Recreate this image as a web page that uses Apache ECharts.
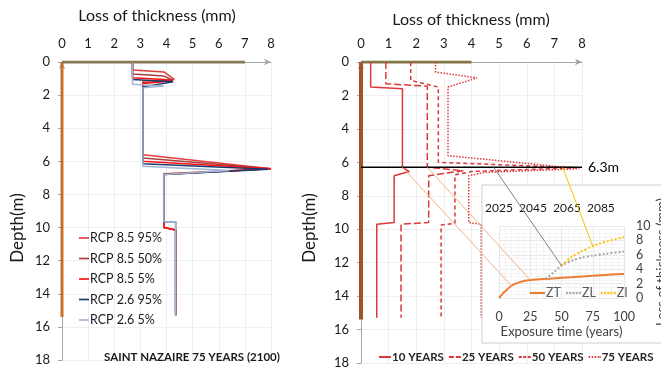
<!DOCTYPE html>
<html>
<head>
<meta charset="utf-8">
<script src="https://cdn.jsdelivr.net/npm/echarts@6/dist/echarts.min.js"></script>
<style>
  html, body { margin: 0; padding: 0; background: #ffffff; }
  #chart { width: 661px; height: 368px; }
</style>
</head>
<body>
<div id="chart"></div>
<script>
// ---- Saint Nazaire, 75 years (2100): loss of thickness profiles, [loss (mm), depth (m)] ----
const rcp85_95 = [[2.7,0],[2.7,0.48],[3.9,0.6],[4.3,1.05],[3.1,1.15],[3.1,5.6],[8.0,6.45],[3.9,6.75],[3.9,10.0],[4.35,10.15],[4.35,15.3]];
const rcp85_50 = [[2.7,0],[2.7,0.72],[3.9,0.85],[4.25,1.1],[3.1,1.25],[3.1,5.8],[8.0,6.45],[3.9,6.78],[3.9,10.0],[4.35,10.15],[4.35,15.3]];
const rcp85_5  = [[2.7,0],[2.7,0.95],[3.9,1.05],[4.2,1.15],[3.1,1.3],[3.1,6.0],[8.0,6.45],[3.9,6.8],[3.9,10.0],[4.35,10.15],[4.35,15.3]];
const rcp26_95 = [[2.7,0],[2.7,1.05],[4.25,1.2],[3.1,1.5],[3.1,6.15],[7.9,6.48],[3.9,6.8],[3.9,9.65],[4.35,9.65],[4.35,15.3]];
const rcp26_5  = [[2.7,0],[2.7,1.35],[3.9,1.45],[3.1,1.55],[3.1,6.3],[6.4,6.55],[3.9,6.8],[3.9,9.65],[4.35,9.65],[4.35,15.3]];

// ---- Exposure durations: loss of thickness profiles, [loss (mm), depth (m)] ----
const years10 = [[0.35,0],[0.35,1.5],[1.5,1.6],[1.5,6.3],[1.75,6.55],[1.2,6.8],[1.2,9.6],[0.57,9.7],[0.57,15.3]];
const years25 = [[0.9,0],[0.9,1.3],[2.4,1.45],[2.4,6.3],[3.7,6.5],[2.45,6.8],[2.45,9.6],[1.45,9.7],[1.45,15.3]];
const years50 = [[1.8,0],[1.8,1.1],[2.8,1.5],[2.8,6.0],[7.8,6.32],[4.0,6.55],[3.4,6.75],[3.4,9.65],[2.9,9.75],[2.9,15.3]];
const years75 = [[2.7,0],[2.7,0.6],[4.2,0.95],[3.15,1.5],[3.15,5.6],[7.9,6.38],[4.5,6.6],[3.9,6.8],[3.9,9.6],[4.35,9.7],[4.35,15.3]];

// Pile outline: shaft down to the toe, and the head at zero depth
const pileShaft = [[0,0],[0,15.4]];
const pileHeadLeft = [[0,0],[7,0]];
const pileHeadRight = [[0,0],[4,0]];

// Depth of maximum loss
const peakDepth = 6.3;

// ---- Loss of thickness vs exposure time, [years, mm] ----
const zoneZT = [[0,0],[3,0.6],[6,1.1],[10,1.7],[15,2.1],[20,2.35],[25,2.5],[30,2.58],[40,2.68],[50,2.8],[60,2.92],[75,3.08],[90,3.25],[100,3.35]];
const zoneZL = [[37,2.65],[42,3.3],[46,3.9],[50,4.5],[55,4.95],[62,5.4],[70,5.75],[80,6.0],[90,6.25],[100,6.45]];
const zoneZI = [[50,4.5],[55,5.3],[62,6.1],[70,6.8],[75,7.2],[85,7.8],[100,8.45]];
const calendarLabels = ['2025','2045','2065','2085'];

// Profile readings at the depth of maximum loss, tied to the curve points they feed
const linkLoss  = [1.5, 2.4, 4.8, 7.3];
const linkYears = [10, 25, 50, 75];
const linkCurve = ['ZT', 'ZT', 'ZL', 'ZI'];
const linkColor = ['#f4b183', '#f4b183', '#808080', '#ffc000'];

const FONT = 'Lato, "Open Sans", sans-serif';
const chart = echarts.init(document.getElementById('chart'), null, { renderer: 'canvas' });

// Legend glyphs: thin strokes, solid / long dash / short dash / dotted
const ICON_SOLID = 'path://M0,0h12v2h-12z';
const ICON_LONG = 'path://M0,0h5v2h-5zM7,0h5v2h-5z';
const ICON_SHORT = 'path://M0,0h3v2h-3zM4.5,0h3v2h-3zM9,0h3v2h-3z';
const ICON_DOT = 'path://M0,0h1.5v2h-1.5zM3,0h1.5v2h-1.5zM6,0h1.5v2h-1.5zM9,0h1.5v2h-1.5zM11,0h1v2h-1z';
const ICON_SOLID15 = 'path://M0,0h15v2h-15z';
const ICON_DOT15 = 'path://M0,0h2v2h-2zM3.25,0h2v2h-2zM6.5,0h2v2h-2zM9.75,0h2v2h-2zM13,0h2v2h-2z';

function depthAxisX(gridIndex) {
  return {
    gridIndex, type: 'value', position: 'top', min: 0, max: 8, interval: 1,
    axisLine: { show: true, onZero: false, lineStyle: { color: '#a6a6a6', width: 1 }, symbol: ['none', 'arrow'], symbolSize: [5, 7] },
    axisTick: { show: false },
    axisLabel: { color: '#1a1a1a', fontSize: 13, fontFamily: FONT, margin: 12 },
    splitLine: { show: true, lineStyle: { color: '#efefef', width: 1 } }
  };
}
function depthAxisY(gridIndex) {
  return {
    gridIndex, type: 'value', inverse: true, min: 0, max: 18, interval: 2,
    axisLine: { show: true, onZero: false, lineStyle: { color: '#a6a6a6', width: 1 }, symbol: ['none', 'arrow'], symbolSize: [5, 7] },
    axisTick: { show: true, length: 4, inside: false, lineStyle: { color: '#a6a6a6' } },
    axisLabel: { color: '#1a1a1a', fontSize: 13, fontFamily: FONT, margin: 12 },
    splitLine: { show: true, lineStyle: { color: '#efefef', width: 1 } }
  };
}
function profile(name, data, color, gi, type, width) {
  return {
    name, type: 'line', data, xAxisIndex: gi, yAxisIndex: gi,
    symbol: 'none', showSymbol: false, animation: false, z: 2,
    lineStyle: { color, width: width || 1.5, type: type || 'solid' },
    itemStyle: { color }
  };
}

const REDS = '#dc3838';
const series = [
  // left panel
  profile('pileShaftL', pileShaft, '#c8702a', 0, 'solid', 3),
  profile('pileHeadL', pileHeadLeft, '#857852', 0, 'solid', 3),
  profile('RCP 8.5 95%', rcp85_95, '#e23c3c', 0),
  profile('RCP 8.5 50%', rcp85_50, '#a84040', 0),
  profile('RCP 8.5 5%', rcp85_5, '#ff1010', 0),
  profile('RCP 2.6 95%', rcp26_95, '#1f3a6e', 0),
  profile('RCP 2.6 5%', rcp26_5, '#9fb6d4', 0),
  // right panel
  profile('pileShaftR', pileShaft, '#a0522d', 1, 'solid', 4),
  profile('pileHeadR', pileHeadRight, '#85764a', 1, 'solid', 3),
  profile('10 YEARS', years10, REDS, 1, 'solid'),
  profile('25 YEARS', years25, REDS, 1, [7, 3]),
  profile('50 YEARS', years50, REDS, 1, [4, 3]),
  profile('75 YEARS', years75, REDS, 1, [1.5, 1.5]),
  {
    name: 'peak', type: 'line', xAxisIndex: 1, yAxisIndex: 1,
    data: [[0, peakDepth], [8, peakDepth]], symbol: 'none', animation: false, z: 3,
    lineStyle: { color: '#000000', width: 1.5 },
    endLabel: {
      show: true, distance: 6, color: '#000000', fontSize: 14, fontFamily: FONT,
      formatter: (p) => p.value[1] + 'm'
    }
  },
  // inset
  Object.assign(profile('ZT', zoneZT, '#ed7d31', 2, 'solid', 2), { smooth: 0.4, z: 6 }),
  Object.assign(profile('ZL', zoneZL, '#a5a5a5', 2, [2, 2], 2), { smooth: 0.4, z: 6 }),
  Object.assign(profile('ZI', zoneZI, '#ffc000', 2, [2, 2], 2), { smooth: 0.4, z: 6 })
];

const option = {
  backgroundColor: '#ffffff',
  animation: false,
  grid: [
    { left: 62, top: 62, width: 209, height: 298, outerBoundsMode: 'none', containLabel: false },
    { left: 361, top: 62, width: 221, height: 301, outerBoundsMode: 'none', containLabel: false },
    { left: 499, top: 226, width: 125, height: 72, z: 5, outerBoundsMode: 'none', containLabel: false }
  ],
  xAxis: [
    depthAxisX(0),
    depthAxisX(1),
    {
      gridIndex: 2, type: 'value', position: 'bottom', min: 0, max: 100, interval: 25, z: 5,
      axisLine: { show: false }, axisTick: { show: false },
      axisLabel: { color: '#404040', fontSize: 12.5, fontFamily: FONT, margin: 12, showMinLabel: true, showMaxLabel: true, hideOverlap: false },
      splitLine: { show: true, lineStyle: { color: '#e8e8e8' } },
      minorTick: { show: false, splitNumber: 5 },
      minorSplitLine: { show: true, lineStyle: { color: '#f4f4f4' } },
      name: 'Exposure time (years)', nameLocation: 'middle', nameGap: 27,
      nameTextStyle: { color: '#404040', fontSize: 13, fontFamily: FONT }
    },
    {
      // calendar years, spaced on their own scale above the plot
      gridIndex: 2, type: 'value', position: 'top', min: 0, max: 92, interval: 25, z: 5,
      axisLine: { show: false }, axisTick: { show: false }, splitLine: { show: false },
      axisLabel: {
        color: '#1a1a1a', fontSize: 12, fontFamily: FONT, margin: 12,
        showMinLabel: true, showMaxLabel: false, hideOverlap: false,
        formatter: (v) => calendarLabels[v / 25] || ''
      }
    }
  ],
  yAxis: [
    depthAxisY(0),
    depthAxisY(1),
    {
      gridIndex: 2, type: 'value', position: 'right', min: 0, max: 10, interval: 2, z: 5,
      axisLine: { show: false }, axisTick: { show: false },
      axisLabel: { color: '#404040', fontSize: 12.5, fontFamily: FONT, margin: 12, showMinLabel: true, showMaxLabel: true, hideOverlap: false },
      splitLine: { show: true, lineStyle: { color: '#e8e8e8' } },
      minorTick: { show: false, splitNumber: 4 },
      minorSplitLine: { show: true, lineStyle: { color: '#f4f4f4' } },
      name: 'Loss of thickness (mm)', nameLocation: 'middle', nameGap: 31, nameRotate: 90,
      nameTextStyle: { color: '#404040', fontSize: 13, fontFamily: FONT }
    }
  ],
  legend: [
    {
      data: ['RCP 8.5 95%', 'RCP 8.5 50%', 'RCP 8.5 5%', 'RCP 2.6 95%', 'RCP 2.6 5%'].map(n => ({ name: n, icon: ICON_SOLID })),
      orient: 'vertical', left: 79, top: 231, padding: 0, itemGap: 6.5,
      itemWidth: 10, itemHeight: 2, selectedMode: false,
      textStyle: { color: '#1a1a1a', fontSize: 12.5, fontFamily: FONT, lineHeight: 14, padding: [0, 0, 0, -4] }
    },
    {
      data: [
        { name: '10 YEARS', icon: ICON_SOLID },
        { name: '25 YEARS', icon: ICON_LONG },
        { name: '50 YEARS', icon: ICON_SHORT },
        { name: '75 YEARS', icon: ICON_DOT }
      ],
      orient: 'horizontal', left: 379, top: 350, padding: 0, itemGap: 5,
      itemWidth: 12, itemHeight: 2, selectedMode: false,
      textStyle: { color: '#262626', fontSize: 11.5, fontWeight: 'bold', fontFamily: FONT, lineHeight: 14, padding: [0, 0, 0, -4] }
    },
    {
      data: [
        { name: 'ZT', icon: ICON_SOLID15 },
        { name: 'ZL', icon: ICON_DOT15 },
        { name: 'ZI', icon: ICON_DOT15 }
      ],
      orient: 'horizontal', left: 530, top: 286, padding: 0, itemGap: 5,
      itemWidth: 15, itemHeight: 2, selectedMode: false, z: 7,
      textStyle: { color: '#595959', fontSize: 12.5, fontFamily: FONT, lineHeight: 14, padding: [0, 0, 0, -4] }
    }
  ],
  series
};
chart.setOption(option);

// Titles, inset frame and the links between profiles and the time curves
const curves = { ZT: zoneZT, ZL: zoneZL, ZI: zoneZI };
const curveSeries = { ZT: series.findIndex(s => s.name === 'ZT'), ZL: series.findIndex(s => s.name === 'ZL'), ZI: series.findIndex(s => s.name === 'ZI') };
const peakSeries = series.findIndex(s => s.name === 'peak');

const links = linkLoss.map((loss, i) => {
  const from = chart.convertToPixel({ seriesIndex: peakSeries }, [loss, peakDepth]);
  const point = curves[linkCurve[i]].find(p => p[0] === linkYears[i]);
  const to = chart.convertToPixel({ seriesIndex: curveSeries[linkCurve[i]] }, point);
  return {
    type: 'line', z: 8, silent: true,
    shape: { x1: from[0], y1: from[1], x2: to[0], y2: to[1] },
    style: { stroke: linkColor[i], lineWidth: 1 }
  };
});

chart.setOption({
  graphic: [
    { type: 'text', x: 157, y: 16, z: 10, style: { text: 'Loss of thickness (mm)', font: '16px ' + FONT, fill: '#1a1a1a', align: 'center', verticalAlign: 'middle' } },
    { type: 'text', x: 471, y: 20, z: 10, style: { text: 'Loss of thickness (mm)', font: '16px ' + FONT, fill: '#1a1a1a', align: 'center', verticalAlign: 'middle' } },
    { type: 'text', x: 18, y: 228, rotation: Math.PI / 2, z: 10, style: { text: 'Depth(m)', font: '17px ' + FONT, fill: '#1a1a1a', align: 'center', verticalAlign: 'middle' } },
    { type: 'text', x: 310, y: 228, rotation: Math.PI / 2, z: 10, style: { text: 'Depth(m)', font: '17px ' + FONT, fill: '#1a1a1a', align: 'center', verticalAlign: 'middle' } },
    { type: 'text', x: 192, y: 357, z: 10, style: { text: 'SAINT NAZAIRE 75 YEARS (2100)', font: 'bold 11.5px ' + FONT, fill: '#1a1a1a', align: 'center', verticalAlign: 'middle' } },
    { type: 'rect', z: 4, silent: true, shape: { x: 482, y: 185, width: 200, height: 158 }, style: { fill: '#ffffff', stroke: '#d0d0d0', lineWidth: 1 } }
  ].concat(links)
});
</script>
</body>
</html>
